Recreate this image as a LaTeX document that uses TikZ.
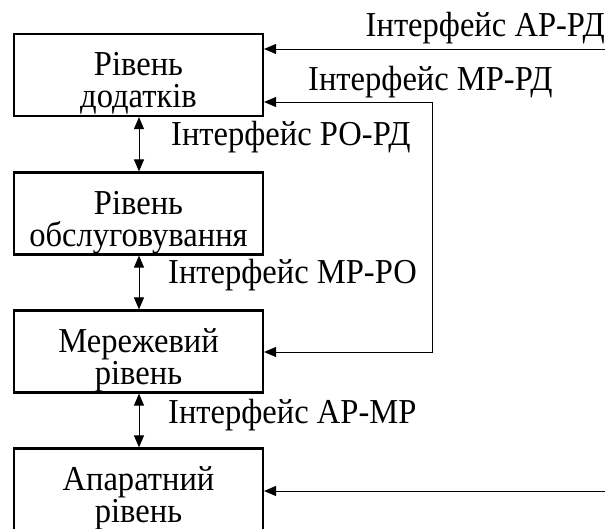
\documentclass[tikz,border=0pt]{standalone}
\usepackage{fontspec}
\setmainfont[FakeStretch=0.93]{Liberation Serif}
\usetikzlibrary{arrows.meta}
\tikzset{
  x=1pt, y=-1pt,
  layer/.style={draw, line width=2.2pt, minimum width=249pt, minimum height=82pt, inner sep=0pt},
  ltext/.style={font=\fontsize{35}{34}\selectfont, inner sep=0pt, anchor=base},
  lbl/.style={font=\fontsize{35}{34}\selectfont, inner sep=0pt},
  arr/.style={line width=1pt, -{Triangle[length=12pt,width=10pt]}},
  darr/.style={line width=1pt, {Triangle[length=12pt,width=10pt]}-{Triangle[length=12pt,width=10pt]}},
}
\begin{document}
\begin{tikzpicture}
\useasboundingbox (0,0) rectangle (605,528);
\clip (0,0) rectangle (605,528);
% boxes
\node[layer] (app) at (138.5,75) {};
\node[layer] (srv) at (138.5,213.5) {};
\node[layer] (net) at (138.5,351.5) {};
\node[layer] (hw)  at (138.5,489.5) {};
% box texts
\node[ltext] (tapp1) at (138.5,75) {Рівень};
\node[ltext] (tapp2) at (138.5,107) {додатків};
\node[ltext] (tsrv1) at (138.5,214) {Рівень};
\node[ltext] (tsrv2) at (138.5,246) {обслуговування};
\node[ltext] (tnet1) at (138.5,352) {Мережевий};
\node[ltext] (tnet2) at (138.5,384) {рівень};
\node[ltext] (thw1)  at (138.5,490) {Апаратний};
\node[ltext] (thw2)  at (138.5,522) {рівень};
% coordinates
\coordinate (aprd) at (605,49);
\coordinate (hwin) at (605,491);
\coordinate (mpc1) at (432,102);
\coordinate (mpc2) at (432,352);
% connectors
\draw[arr] (aprd) -- (app.east |- aprd);
\draw[arr] (hwin) -- (hw.east |- hwin);
\draw[darr] (app.east |- mpc1) -- (mpc1) -- (mpc2) -- (net.east |- mpc2);
\draw[darr] ([xshift=0.5pt]app.south) -- ([xshift=0.5pt]srv.north);
\draw[darr] ([xshift=0.5pt]srv.south) -- ([xshift=0.5pt]net.north);
\draw[darr] ([xshift=0.5pt]net.south) -- ([xshift=0.5pt]hw.north);
% labels
\node[lbl, anchor=base east] (laprd) at (605,36) {Інтерфейс АР-РД};
\node[lbl, anchor=base west] (lmprd) at (308,90) {Інтерфейс МР-РД};
\node[lbl, anchor=base west] (lrord) at (171,145) {Інтерфейс РО-РД};
\node[lbl, anchor=base west] (lmpro) at (168,283) {Інтерфейс МР-РО};
\node[lbl, anchor=base west] (lapmp) at (168,423) {Інтерфейс АР-МР};
\end{tikzpicture}
\end{document}
